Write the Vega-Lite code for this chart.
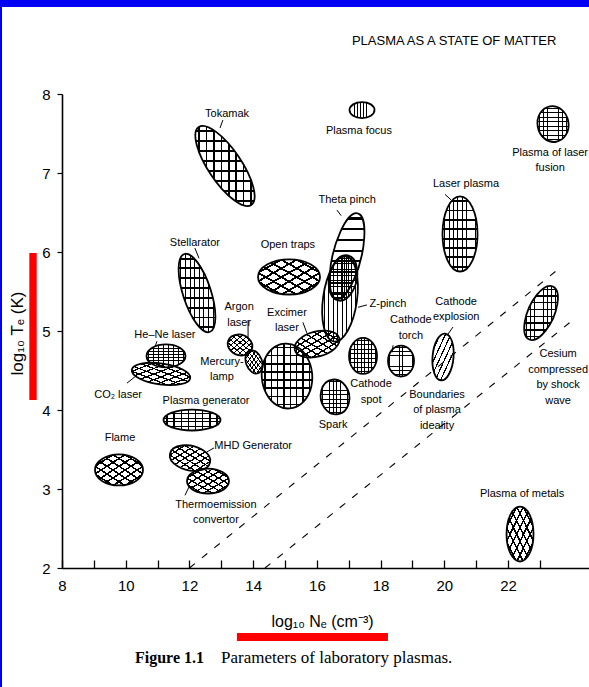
{
  "$schema": "https://vega.github.io/schema/vega-lite/v6.json",
  "width": 527,
  "height": 474,
  "autosize": {"type": "none"},
  "padding": {"left": 62, "top": 94, "right": 0, "bottom": 119},
  "background": "white",
  "config": {"view": {"stroke": null}, "font": "Liberation Sans"},
  "datasets": {
    "regions": [
      {"region": "Tokamak", "ne": 13.116, "te": 7.089, "span": 1.86, "hatch": "grid"},
      {"region": "Plasma focus", "ne": 17.416, "te": 7.797, "span": 0.785, "hatch": "grid"},
      {"region": "Plasma of laser fusion", "ne": 23.411, "te": 7.62, "span": 0.978, "hatch": "grid"},
      {"region": "Laser plasma", "ne": 20.492, "te": 6.228, "span": 1.099, "hatch": "grid"},
      {"region": "Theta pinch", "ne": 16.945, "te": 5.949, "span": 1.083, "hatch": "horiz"},
      {"region": "Z-pinch", "ne": 16.726, "te": 5.405, "span": 1.121, "hatch": "vert"},
      {"region": "Z-pinch core", "ne": 16.82, "te": 5.671, "span": 0.882, "hatch": "grid"},
      {"region": "Open traps", "ne": 15.125, "te": 5.684, "span": 1.946, "hatch": "diag"},
      {"region": "Stellarator", "ne": 12.237, "te": 5.481, "span": 1.154, "hatch": "grid"},
      {"region": "He–Ne laser", "ne": 11.264, "te": 4.684, "span": 1.224, "hatch": "grid"},
      {"region": "CO₂ laser", "ne": 11.107, "te": 4.456, "span": 1.836, "hatch": "diag"},
      {"region": "Argon laser", "ne": 13.587, "te": 4.823, "span": 0.768, "hatch": "diag"},
      {"region": "Mercury lamp", "ne": 14.026, "te": 4.608, "span": 0.537, "hatch": "diag"},
      {"region": "Unlabelled", "ne": 15.062, "te": 4.43, "span": 1.574, "hatch": "grid"},
      {"region": "Excimer laser", "ne": 16.004, "te": 4.835, "span": 1.409, "hatch": "diag"},
      {"region": "Cathode spot", "ne": 17.448, "te": 4.684, "span": 0.879, "hatch": "grid"},
      {"region": "Cathode torch", "ne": 18.64, "te": 4.62, "span": 0.816, "hatch": "grid"},
      {"region": "Cathode explosion", "ne": 19.959, "te": 4.671, "span": 0.669, "hatch": "diag1"},
      {"region": "Spark", "ne": 16.569, "te": 4.165, "span": 0.886, "hatch": "grid"},
      {"region": "Cesium compressed by shock wave", "ne": 23.035, "te": 5.228, "span": 1.051, "hatch": "grid"},
      {"region": "Plasma generator", "ne": 12.08, "te": 3.873, "span": 1.789, "hatch": "grid"},
      {"region": "Flame", "ne": 9.789, "te": 3.241, "span": 1.507, "hatch": "diag"},
      {"region": "MHD Generator", "ne": 12.018, "te": 3.392, "span": 1.268, "hatch": "diag"},
      {"region": "Thermoemission convertor", "ne": 12.582, "te": 3.101, "span": 1.318, "hatch": "diag"},
      {"region": "Plasma of metals", "ne": 22.375, "te": 2.43, "span": 0.847, "hatch": "diag"}
    ],
    "labels": [
      {"label": "Tokamak", "ne": 13.18, "te": 7.75},
      {"label": "Plasma focus", "ne": 17.32, "te": 7.53},
      {"label": "Plasma of laser\nfusion", "ne": 23.32, "te": 7.258},
      {"label": "Laser plasma", "ne": 20.68, "te": 6.86},
      {"label": "Theta pinch", "ne": 16.95, "te": 6.66},
      {"label": "Stellarator", "ne": 12.17, "te": 6.11},
      {"label": "Open traps", "ne": 15.09, "te": 6.09},
      {"label": "Argon\nlaser", "ne": 13.56, "te": 5.298},
      {"label": "Excimer\nlaser", "ne": 15.06, "te": 5.228},
      {"label": "Z-pinch", "ne": 18.23, "te": 5.34},
      {"label": "Cathode\nexplosion", "ne": 20.37, "te": 5.368},
      {"label": "Cathode\ntorch", "ne": 18.95, "te": 5.138},
      {"label": "He–Ne laser", "ne": 11.23, "te": 4.95},
      {"label": "Mercury-\nlamp", "ne": 13.02, "te": 4.608},
      {"label": "CO₂ laser", "ne": 9.76, "te": 4.19},
      {"label": "Plasma generator", "ne": 12.52, "te": 4.11},
      {"label": "Flame", "ne": 9.82, "te": 3.65},
      {"label": "MHD Generator", "ne": 14.0, "te": 3.54},
      {"label": "Thermoemission\nconvertor", "ne": 12.83, "te": 2.798},
      {"label": "Cathode\nspot", "ne": 17.7, "te": 4.328},
      {"label": "Spark", "ne": 16.51, "te": 3.81},
      {"label": "Boundaries\nof plasma\nideality", "ne": 19.77, "te": 4.196},
      {"label": "Cesium\ncompressed\nby shock\nwave", "ne": 23.57, "te": 4.704},
      {"label": "Plasma of metals", "ne": 22.44, "te": 2.94}
    ],
    "leaders": [
      {"ne": 13.05, "te": 7.67, "ne2": 12.96, "te2": 7.57},
      {"ne": 20.02, "te": 6.73, "ne2": 20.21, "te2": 6.66},
      {"ne": 16.63, "te": 6.53, "ne2": 16.76, "te2": 6.46},
      {"ne": 12.17, "te": 6.05, "ne2": 12.3, "te2": 5.92},
      {"ne": 13.84, "te": 5.14, "ne2": 13.84, "te2": 4.92},
      {"ne": 15.56, "te": 5.11, "ne2": 15.69, "te2": 4.97},
      {"ne": 17.29, "te": 5.3, "ne2": 17.57, "te2": 5.33},
      {"ne": 20.27, "te": 5.05, "ne2": 20.08, "te2": 4.94},
      {"ne": 18.39, "te": 4.82, "ne2": 18.36, "te2": 4.73},
      {"ne": 10.98, "te": 4.87, "ne2": 10.92, "te2": 4.8},
      {"ne": 10.04, "te": 4.34, "ne2": 10.35, "te2": 4.44},
      {"ne": 12.55, "te": 3.47, "ne2": 12.77, "te2": 3.52},
      {"ne": 11.86, "te": 2.92, "ne2": 11.99, "te2": 3.03}
    ],
    "boundaries": [
      {"line": "upper", "ne": 12.0, "te": 2.0},
      {"line": "upper", "ne": 23.63, "te": 5.8},
      {"line": "lower", "ne": 14.37, "te": 2.0},
      {"line": "lower", "ne": 24.04, "te": 5.14}
    ],
    "highlights": [
      {"ne": 6.974, "ne2": 7.206, "te": 5.987, "te2": 4.127},
      {"ne": 13.49, "ne2": 18.23, "te": 1.177, "te2": 1.076}
    ],
    "frame": [
      {"ne": 5.5, "ne2": 26, "te": 9.6, "te2": 9.101},
      {"ne": 5.5, "ne2": 6.117, "te": 9.6, "te2": 0}
    ],
    "header": [
      {"text": "PLASMA AS A STATE OF MATTER", "ne": 17.1, "te": 8.62}
    ],
    "caption": [
      {"text": "Figure 1.1", "part": "number", "ne": 10.29, "te": 0.797},
      {"text": "Parameters of laboratory plasmas.", "part": "text", "ne": 12.99, "te": 0.797}
    ]
  },
  "encoding": {
    "x": {
      "field": "ne", "type": "quantitative",
      "scale": {"domain": [8, 24.54], "nice": false, "zero": false},
      "axis": {
        "values": [8, 9, 10, 11, 12, 13, 14, 15, 16, 17, 18, 19, 20, 21, 22, 23],
        "labelExpr": "datum.value % 2 === 0 ? datum.label : ''",
        "grid": false, "tickSize": -8, "tickWidth": 1.3, "tickColor": "#000",
        "domainColor": "#000", "domainWidth": 1.6,
        "labelPadding": 18, "labelFontSize": 15, "labelColor": "#000", "labelFont": "Liberation Sans",
        "labelFlush": false, "labelOverlap": false, "labelBound": false,
        "title": "log₁₀ Nₑ (cm⁻³)", "titleX": 260, "titleY": 53, "titleFontSize": 16,
        "titleFontWeight": "normal", "titleBaseline": "middle", "titleAlign": "center",
        "titleColor": "#000", "titleFont": "Liberation Sans"
      }
    },
    "y": {
      "field": "te", "type": "quantitative",
      "scale": {"domain": [2, 8], "nice": false, "zero": false},
      "axis": {
        "values": [2, 3, 4, 5, 6, 7, 8],
        "grid": false, "tickSize": 5, "tickWidth": 1.2, "tickColor": "#000",
        "domainColor": "#000", "domainWidth": 1.6,
        "labelPadding": 7, "labelFontSize": 15, "labelColor": "#000", "labelFont": "Liberation Sans",
        "labelFlush": false, "labelOverlap": false, "labelBound": false,
        "title": "log₁₀ Tₑ (K)", "titleX": -45, "titleY": 239, "titleAngle": -90, "titleFontSize": 17,
        "titleFontWeight": "normal", "titleBaseline": "middle", "titleAlign": "center",
        "titleColor": "#000", "titleFont": "Liberation Sans"
      }
    }
  },
  "layer": [
    {
      "data": {"name": "frame"},
      "mark": {"type": "rect", "color": "#0000f5"},
      "encoding": {"x2": {"field": "ne2"}, "y2": {"field": "te2"}}
    },
    {
      "data": {"name": "highlights"},
      "mark": {"type": "rect", "color": "#ff0000"},
      "encoding": {"x2": {"field": "ne2"}, "y2": {"field": "te2"}}
    },
    {
      "data": {"name": "regions"},
      "mark": {"type": "point", "filled": true, "fill": "#fff", "strokeWidth": 0, "opacity": 1},
      "encoding": {
        "shape": {"field": "region", "type": "nominal", "legend": null, "scale": {
          "domain": ["Tokamak", "Plasma focus", "Plasma of laser fusion", "Laser plasma", "Theta pinch", "Z-pinch", "Z-pinch core", "Open traps", "Stellarator", "He–Ne laser", "CO₂ laser", "Argon laser", "Mercury lamp", "Unlabelled", "Excimer laser", "Cathode spot", "Cathode torch", "Cathode explosion", "Spark", "Cesium compressed by shock wave", "Plasma generator", "Flame", "MHD Generator", "Thermoemission convertor", "Plasma of metals"],
          "range": [
            "M-0.887,-1.315A1.586,0.557,56,1,1,0.887,1.315A1.586,0.557,56,1,1,-0.887,-1.315Z",
            "M-1,0A1,0.64,0,1,1,1,0A1,0.64,0,1,1,-1,0Z",
            "M-0.201,-1.138A1.155,0.995,80,1,1,0.201,1.138A1.155,0.995,80,1,1,-0.201,-1.138Z",
            "M0,-2.143A2.143,1,90,1,1,0,2.143A2.143,1,90,1,1,0,-2.143Z",
            "M-0.617,2.473A2.549,0.811,-76,1,1,0.617,-2.473A2.549,0.811,-76,1,1,-0.617,2.473Z",
            "M-0.335,2.383A2.406,0.951,-82,1,1,0.335,-2.383A2.406,0.951,-82,1,1,-0.335,2.383Z",
            "M-0.34,1.601A1.637,0.961,-78,1,1,0.34,-1.601A1.637,0.961,-78,1,1,-0.34,1.601Z",
            "M-1,0A1,0.565,0,1,1,1,0A1,0.565,0,1,1,-1,0Z",
            "M-0.689,-2.122A2.231,0.762,72,1,1,0.689,2.122A2.231,0.762,72,1,1,-0.689,-2.122Z",
            "M-1,0A1,0.59,0,1,1,1,0A1,0.59,0,1,1,-1,0Z",
            "M-0.999,-0.14A1.0085,0.359,8,1,1,0.999,0.14A1.0085,0.359,8,1,1,-0.999,-0.14Z",
            "M-0.96,-0.35A1.022,0.818,20,1,1,0.96,0.35A1.022,0.818,20,1,1,-0.96,-0.35Z",
            "M-0.48,-1.318A1.402,0.935,70,1,1,0.48,1.318A1.402,0.935,70,1,1,-0.48,-1.318Z",
            "M-0.113,-1.291A1.296,0.997,85,1,1,0.113,1.291A1.296,0.997,85,1,1,-0.113,-1.291Z",
            "M-0.99,0.265A1.0245,0.557,-15,1,1,0.99,-0.265A1.0245,0.557,-15,1,1,-0.99,0.265Z",
            "M0,-1.286A1.286,1,90,1,1,0,1.286A1.286,1,90,1,1,0,-1.286Z",
            "M0,-1.192A1.192,1,90,1,1,0,1.192A1.192,1,90,1,1,0,-1.192Z",
            "M-0.192,2.197A2.205,0.985,-85,1,1,0.192,-2.197A2.205,0.985,-85,1,1,-0.192,2.197Z",
            "M-0.215,-1.22A1.239,0.992,80,1,1,0.215,1.22A1.239,0.992,80,1,1,-0.215,-1.22Z",
            "M-0.705,1.582A1.732,0.777,-66,1,1,0.705,-1.582A1.732,0.777,-66,1,1,-0.705,1.582Z",
            "M-1,0A1,0.368,0,1,1,1,0A1,0.368,0,1,1,-1,0Z",
            "M-1,0A1,0.646,0,1,1,1,0A1,0.646,0,1,1,-1,0Z",
            "M-0.992,-0.211A1.0144,0.594,12,1,1,0.992,0.211A1.0144,0.594,12,1,1,-0.992,-0.211Z",
            "M-1,0A1,0.595,0,1,1,1,0A1,0.595,0,1,1,-1,0Z",
            "M0,-2.037A2.037,1,90,1,1,0,2.037A2.037,1,90,1,1,0,-2.037Z"
          ]}},
        "size": {"field": "span", "type": "quantitative", "legend": null, "scale": {"type": "pow", "exponent": 2, "domain": [0, 2], "range": [0, 4060]}}
      }
    },
    {
      "data": {"name": "regions"},
      "transform": [{"filter": {"field": "hatch", "oneOf": ["grid", "vert"]}}],
      "mark": {"type": "point", "filled": true, "strokeWidth": 0, "opacity": 1,
        "fill": {"gradient": "linear", "x1": 0, "y1": 0, "x2": 1, "y2": 0, "stops": [
          {"offset": 0, "color": "rgba(0,0,0,0)"},
          {"offset": 0.05, "color": "rgba(0,0,0,0)"}, {"offset": 0.05, "color": "#000"}, {"offset": 0.076, "color": "#000"}, {"offset": 0.076, "color": "rgba(0,0,0,0)"},
          {"offset": 0.175, "color": "rgba(0,0,0,0)"}, {"offset": 0.175, "color": "#000"}, {"offset": 0.201, "color": "#000"}, {"offset": 0.201, "color": "rgba(0,0,0,0)"},
          {"offset": 0.3, "color": "rgba(0,0,0,0)"}, {"offset": 0.3, "color": "#000"}, {"offset": 0.326, "color": "#000"}, {"offset": 0.326, "color": "rgba(0,0,0,0)"},
          {"offset": 0.425, "color": "rgba(0,0,0,0)"}, {"offset": 0.425, "color": "#000"}, {"offset": 0.451, "color": "#000"}, {"offset": 0.451, "color": "rgba(0,0,0,0)"},
          {"offset": 0.55, "color": "rgba(0,0,0,0)"}, {"offset": 0.55, "color": "#000"}, {"offset": 0.576, "color": "#000"}, {"offset": 0.576, "color": "rgba(0,0,0,0)"},
          {"offset": 0.675, "color": "rgba(0,0,0,0)"}, {"offset": 0.675, "color": "#000"}, {"offset": 0.701, "color": "#000"}, {"offset": 0.701, "color": "rgba(0,0,0,0)"},
          {"offset": 0.8, "color": "rgba(0,0,0,0)"}, {"offset": 0.8, "color": "#000"}, {"offset": 0.826, "color": "#000"}, {"offset": 0.826, "color": "rgba(0,0,0,0)"},
          {"offset": 0.925, "color": "rgba(0,0,0,0)"}, {"offset": 0.925, "color": "#000"}, {"offset": 0.951, "color": "#000"}, {"offset": 0.951, "color": "rgba(0,0,0,0)"},
          {"offset": 1, "color": "rgba(0,0,0,0)"}]}},
      "encoding": {
        "shape": {"field": "region", "type": "nominal", "legend": null},
        "size": {"field": "span", "type": "quantitative", "legend": null}
      }
    },
    {
      "data": {"name": "regions"},
      "transform": [{"filter": {"field": "hatch", "oneOf": ["grid", "horiz"]}}],
      "mark": {"type": "point", "filled": true, "strokeWidth": 0, "opacity": 1,
        "fill": {"gradient": "linear", "x1": 0, "y1": 0, "x2": 0, "y2": 1, "stops": [
          {"offset": 0, "color": "rgba(0,0,0,0)"},
          {"offset": 0.05, "color": "rgba(0,0,0,0)"}, {"offset": 0.05, "color": "#000"}, {"offset": 0.074, "color": "#000"}, {"offset": 0.074, "color": "rgba(0,0,0,0)"},
          {"offset": 0.175, "color": "rgba(0,0,0,0)"}, {"offset": 0.175, "color": "#000"}, {"offset": 0.199, "color": "#000"}, {"offset": 0.199, "color": "rgba(0,0,0,0)"},
          {"offset": 0.3, "color": "rgba(0,0,0,0)"}, {"offset": 0.3, "color": "#000"}, {"offset": 0.324, "color": "#000"}, {"offset": 0.324, "color": "rgba(0,0,0,0)"},
          {"offset": 0.425, "color": "rgba(0,0,0,0)"}, {"offset": 0.425, "color": "#000"}, {"offset": 0.449, "color": "#000"}, {"offset": 0.449, "color": "rgba(0,0,0,0)"},
          {"offset": 0.55, "color": "rgba(0,0,0,0)"}, {"offset": 0.55, "color": "#000"}, {"offset": 0.574, "color": "#000"}, {"offset": 0.574, "color": "rgba(0,0,0,0)"},
          {"offset": 0.675, "color": "rgba(0,0,0,0)"}, {"offset": 0.675, "color": "#000"}, {"offset": 0.699, "color": "#000"}, {"offset": 0.699, "color": "rgba(0,0,0,0)"},
          {"offset": 0.8, "color": "rgba(0,0,0,0)"}, {"offset": 0.8, "color": "#000"}, {"offset": 0.824, "color": "#000"}, {"offset": 0.824, "color": "rgba(0,0,0,0)"},
          {"offset": 0.925, "color": "rgba(0,0,0,0)"}, {"offset": 0.925, "color": "#000"}, {"offset": 0.949, "color": "#000"}, {"offset": 0.949, "color": "rgba(0,0,0,0)"},
          {"offset": 1, "color": "rgba(0,0,0,0)"}]}},
      "encoding": {
        "shape": {"field": "region", "type": "nominal", "legend": null},
        "size": {"field": "span", "type": "quantitative", "legend": null}
      }
    },
    {
      "data": {"name": "regions"},
      "transform": [{"filter": {"field": "hatch", "oneOf": ["diag", "diag1"]}}],
      "mark": {"type": "point", "filled": true, "strokeWidth": 0, "opacity": 1,
        "fill": {"gradient": "linear", "x1": 0, "y1": 0, "x2": 1, "y2": 1, "stops": [
          {"offset": 0, "color": "rgba(0,0,0,0)"},
          {"offset": 0.05, "color": "rgba(0,0,0,0)"}, {"offset": 0.05, "color": "#000"}, {"offset": 0.08, "color": "#000"}, {"offset": 0.08, "color": "rgba(0,0,0,0)"},
          {"offset": 0.175, "color": "rgba(0,0,0,0)"}, {"offset": 0.175, "color": "#000"}, {"offset": 0.205, "color": "#000"}, {"offset": 0.205, "color": "rgba(0,0,0,0)"},
          {"offset": 0.3, "color": "rgba(0,0,0,0)"}, {"offset": 0.3, "color": "#000"}, {"offset": 0.33, "color": "#000"}, {"offset": 0.33, "color": "rgba(0,0,0,0)"},
          {"offset": 0.425, "color": "rgba(0,0,0,0)"}, {"offset": 0.425, "color": "#000"}, {"offset": 0.455, "color": "#000"}, {"offset": 0.455, "color": "rgba(0,0,0,0)"},
          {"offset": 0.55, "color": "rgba(0,0,0,0)"}, {"offset": 0.55, "color": "#000"}, {"offset": 0.58, "color": "#000"}, {"offset": 0.58, "color": "rgba(0,0,0,0)"},
          {"offset": 0.675, "color": "rgba(0,0,0,0)"}, {"offset": 0.675, "color": "#000"}, {"offset": 0.705, "color": "#000"}, {"offset": 0.705, "color": "rgba(0,0,0,0)"},
          {"offset": 0.8, "color": "rgba(0,0,0,0)"}, {"offset": 0.8, "color": "#000"}, {"offset": 0.83, "color": "#000"}, {"offset": 0.83, "color": "rgba(0,0,0,0)"},
          {"offset": 0.925, "color": "rgba(0,0,0,0)"}, {"offset": 0.925, "color": "#000"}, {"offset": 0.955, "color": "#000"}, {"offset": 0.955, "color": "rgba(0,0,0,0)"},
          {"offset": 1, "color": "rgba(0,0,0,0)"}]}},
      "encoding": {
        "shape": {"field": "region", "type": "nominal", "legend": null},
        "size": {"field": "span", "type": "quantitative", "legend": null}
      }
    },
    {
      "data": {"name": "regions"},
      "transform": [{"filter": {"field": "hatch", "oneOf": ["diag"]}}],
      "mark": {"type": "point", "filled": true, "strokeWidth": 0, "opacity": 1,
        "fill": {"gradient": "linear", "x1": 1, "y1": 0, "x2": 0, "y2": 1, "stops": [
          {"offset": 0, "color": "rgba(0,0,0,0)"},
          {"offset": 0.05, "color": "rgba(0,0,0,0)"}, {"offset": 0.05, "color": "#000"}, {"offset": 0.08, "color": "#000"}, {"offset": 0.08, "color": "rgba(0,0,0,0)"},
          {"offset": 0.175, "color": "rgba(0,0,0,0)"}, {"offset": 0.175, "color": "#000"}, {"offset": 0.205, "color": "#000"}, {"offset": 0.205, "color": "rgba(0,0,0,0)"},
          {"offset": 0.3, "color": "rgba(0,0,0,0)"}, {"offset": 0.3, "color": "#000"}, {"offset": 0.33, "color": "#000"}, {"offset": 0.33, "color": "rgba(0,0,0,0)"},
          {"offset": 0.425, "color": "rgba(0,0,0,0)"}, {"offset": 0.425, "color": "#000"}, {"offset": 0.455, "color": "#000"}, {"offset": 0.455, "color": "rgba(0,0,0,0)"},
          {"offset": 0.55, "color": "rgba(0,0,0,0)"}, {"offset": 0.55, "color": "#000"}, {"offset": 0.58, "color": "#000"}, {"offset": 0.58, "color": "rgba(0,0,0,0)"},
          {"offset": 0.675, "color": "rgba(0,0,0,0)"}, {"offset": 0.675, "color": "#000"}, {"offset": 0.705, "color": "#000"}, {"offset": 0.705, "color": "rgba(0,0,0,0)"},
          {"offset": 0.8, "color": "rgba(0,0,0,0)"}, {"offset": 0.8, "color": "#000"}, {"offset": 0.83, "color": "#000"}, {"offset": 0.83, "color": "rgba(0,0,0,0)"},
          {"offset": 0.925, "color": "rgba(0,0,0,0)"}, {"offset": 0.925, "color": "#000"}, {"offset": 0.955, "color": "#000"}, {"offset": 0.955, "color": "rgba(0,0,0,0)"},
          {"offset": 1, "color": "rgba(0,0,0,0)"}]}},
      "encoding": {
        "shape": {"field": "region", "type": "nominal", "legend": null},
        "size": {"field": "span", "type": "quantitative", "legend": null}
      }
    },
    {
      "data": {"name": "regions"},
      "mark": {"type": "point", "filled": false, "stroke": "#000", "strokeWidth": 1.8, "opacity": 1},
      "encoding": {
        "shape": {"field": "region", "type": "nominal", "legend": null},
        "size": {"field": "span", "type": "quantitative", "legend": null}
      }
    },
    {
      "data": {"name": "boundaries"},
      "mark": {"type": "line", "color": "#000", "strokeWidth": 1.1, "strokeDash": [7, 9]},
      "encoding": {"detail": {"field": "line", "type": "nominal"}}
    },
    {
      "data": {"name": "leaders"},
      "mark": {"type": "rule", "color": "#000", "strokeWidth": 1},
      "encoding": {"x2": {"field": "ne2"}, "y2": {"field": "te2"}}
    },
    {
      "data": {"name": "labels"},
      "mark": {"type": "text", "font": "Liberation Sans", "fontSize": 11, "color": "#000", "align": "center", "baseline": "middle", "lineBreak": "\n", "lineHeight": 15.5},
      "encoding": {"text": {"field": "label", "type": "nominal"}}
    },
    {
      "data": {"name": "header"},
      "mark": {"type": "text", "font": "Liberation Sans", "fontSize": 13, "color": "#000", "align": "left", "baseline": "alphabetic"},
      "encoding": {"text": {"field": "text", "type": "nominal"}}
    },
    {
      "data": {"name": "caption"},
      "transform": [{"filter": "datum.part === 'number'"}],
      "mark": {"type": "text", "font": "Liberation Serif", "fontSize": 16, "fontWeight": "bold", "color": "#000", "align": "left", "baseline": "alphabetic"},
      "encoding": {"text": {"field": "text", "type": "nominal"}}
    },
    {
      "data": {"name": "caption"},
      "transform": [{"filter": "datum.part === 'text'"}],
      "mark": {"type": "text", "font": "Liberation Serif", "fontSize": 17, "color": "#000", "align": "left", "baseline": "alphabetic"},
      "encoding": {"text": {"field": "text", "type": "nominal"}}
    }
  ]
}
